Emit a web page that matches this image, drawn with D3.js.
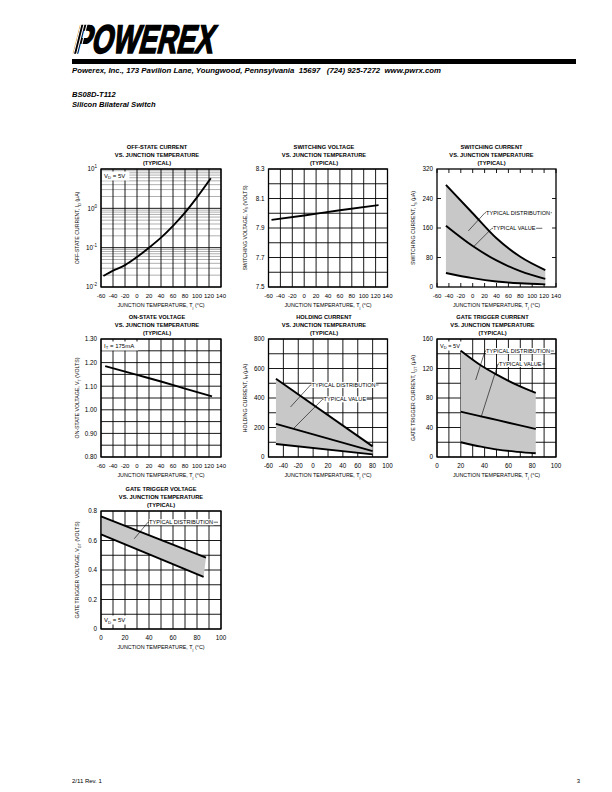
<!DOCTYPE html>
<html><head><meta charset="utf-8">
<script src="https://cdn.jsdelivr.net/npm/d3@7"></script>
<style>body{margin:0;background:#fff} svg{display:block} text{font-family:"Liberation Sans",Arial,Helvetica,sans-serif}</style>
</head><body>
<svg id="c" width="612" height="792"></svg>
<script>
// ---------- data ----------
const offT = [-56, -40, -20, 0, 20, 40, 60, 80, 100, 123];
const offI = [0.019, 0.026, 0.036, 0.058, 0.10, 0.18, 0.36, 0.78, 1.9, 5.8];

const swvT = [-55, 0, 60, 125];
const swvV = [7.955, 7.985, 8.02, 8.055];

const swcT = [-45, 0, 40, 80, 122];
const swcUpper = [277, 200, 132, 82, 46];
const swcTypical = [166, 111, 72, 43, 22];
const swcLower = [38, 24, 15, 10, 7];

const onT = [-53, 0, 40, 80, 125];
const onV = [1.185, 1.148, 1.12, 1.09, 1.057];

const holdT = [-50, 80];
const holdUpper = [531, 72];
const holdTypical = [224, 40];
const holdLower = [88, 18];

const gtcT = [20, 37, 51, 68, 83];
const gtcUpper = [144, 124, 111, 97, 87];
const gtcTypical = [61.5, 55, 50, 43.5, 38];
const gtcLower = [20, 14, 10, 7, 5];

const gtvUpperT = [0, 87.5];
const gtvUpper = [0.764, 0.484];
const gtvLowerT = [0, 85.5];
const gtvLower = [0.642, 0.354];

// ---------- tick labels ----------
const tempTicksA = [-60, -40, -20, 0, 20, 40, 60, 80, 100, 120, 140];
const tempTicksB = [-60, -40, -20, 0, 20, 40, 60, 80, 100];
const tempTicksC = [0, 20, 40, 60, 80, 100];
const offYExp = [-2, -1, 0, 1];
const swvYTicks = [7.5, 7.7, 7.9, 8.1, 8.3];
const swcYTicks = [0, 80, 160, 240, 320];
const onYTicks = [0.80, 0.90, 1.00, 1.10, 1.20, 1.30];
const holdYTicks = [0, 200, 400, 600, 800];
const gtcYTicks = [0, 40, 80, 120, 160];
const gtvYTicks = [0, 0.2, 0.4, 0.6, 0.8];

const svg = d3.select('#c');
const FS = 6.3;

function rich(sel, parts, fs) {
  let shift = 0;
  parts.forEach(p => {
    const t = sel.append('tspan').text(p.t);
    let target = 0, size = fs;
    if (p.sub) { target = fs * 0.3; size = fs * 0.72; }
    if (p.sup) { target = -fs * 0.45; size = fs * 0.72; }
    if (target !== shift) { t.attr('dy', target - shift); shift = target; }
    t.attr('font-size', size);
  });
}

const xTitle = [{t: 'JUNCTION TEMPERATURE, T'}, {t: 'j', sub: true}, {t: ' (°C)'}];

function chart(o) {
  const g = svg.append('g');
  const x = d3.scaleLinear().domain(o.xd).range([o.l, o.l + o.w]);
  const y = (o.log ? d3.scaleLog() : d3.scaleLinear()).domain(o.yd).range([o.t + o.h, o.t]);
  const X0 = o.l, X1 = o.l + o.w, Y0 = o.t + o.h, Y1 = o.t;
  const hline = (vals, stroke, sw) => g.append('g').selectAll('line').data(vals).join('line')
    .attr('x1', X0).attr('x2', X1).attr('y1', d => y(d)).attr('y2', d => y(d))
    .attr('stroke', stroke).attr('stroke-width', sw);
  const vline = (vals, stroke, sw) => g.append('g').selectAll('line').data(vals).join('line')
    .attr('y1', Y0).attr('y2', Y1).attr('x1', d => x(d)).attr('x2', d => x(d))
    .attr('stroke', stroke).attr('stroke-width', sw);
  if (o.minorY) hline(o.minorY, '#8c8c8c', 0.7);
  if (o.gridY) hline(o.gridY, '#000', 0.9);
  if (o.gridX) vline(o.gridX, '#000', 0.9);
  if (o.innerTicks) {
    const tk = g.append('g').attr('stroke', '#000').attr('stroke-width', 0.9);
    o.innerTicks.x.forEach(v => {
      tk.append('line').attr('x1', x(v)).attr('x2', x(v)).attr('y1', Y1).attr('y2', Y1 + 4);
      tk.append('line').attr('x1', x(v)).attr('x2', x(v)).attr('y1', Y0).attr('y2', Y0 - 4);
    });
    o.innerTicks.y.forEach(v => {
      tk.append('line').attr('y1', y(v)).attr('y2', y(v)).attr('x1', X0).attr('x2', X0 + 4);
      tk.append('line').attr('y1', y(v)).attr('y2', y(v)).attr('x1', X1).attr('x2', X1 - 4);
    });
  }
  const box = b => {
    const bg = g.append('g');
    const r = bg.append('rect').attr('fill', '#fff');
    const t = bg.append('text').attr('font-size', b.fs || 6).attr('x', X0 + 3)
      .attr('y', b.bottom ? Y0 - 7 : Y1 + 8.5);
    rich(t, b.parts, b.fs || 6);
    const w = t.node().getComputedTextLength();
    r.attr('x', X0 + 1).attr('width', w + 6).attr('y', b.bottom ? Y0 - 13.5 : Y1 + 2.5).attr('height', 9);
  };
  if (o.box && o.boxBefore) box(o.box);
  const line = d3.line().x(d => x(d[0])).y(d => y(d[1])).curve(d3.curveMonotoneX);
  if (o.band) {
    const up = o.band.t1.map((t, i) => [t, o.band.up[i]]);
    const lo = o.band.t2.map((t, i) => [t, o.band.lo[i]]).reverse();
    const p = line(up) + 'L' + line(lo).slice(1) + 'Z';
    g.append('path').attr('d', p).attr('fill', '#c8c8c8').attr('stroke', 'none');
  }
  g.append('rect').attr('x', X0).attr('y', Y1).attr('width', o.w).attr('height', o.h)
    .attr('fill', 'none').attr('stroke', '#000').attr('stroke-width', 1.3);
  o.curves.forEach(c => {
    g.append('path').attr('d', line(c.t.map((t, i) => [t, c.v[i]])))
      .attr('fill', 'none').attr('stroke', '#000').attr('stroke-width', 1.9);
  });
  g.append('g').selectAll('text').data(o.xt).join('text')
    .attr('x', d => x(d)).attr('y', Y0 + 11.3).attr('text-anchor', 'middle')
    .attr('font-size', o.xfs || FS).text(d => d);
  if (o.log) {
    o.yt.forEach(e => {
      const t = g.append('text').attr('x', X0 - 4).attr('y', y(Math.pow(10, e)) + 2.3)
        .attr('text-anchor', 'end').attr('font-size', FS);
      rich(t, [{t: '10'}, {t: String(e), sup: true}], FS);
    });
  } else {
    g.append('g').selectAll('text').data(o.yt).join('text')
      .attr('x', X0 - 4).attr('y', d => y(d) + 2.3).attr('text-anchor', 'end')
      .attr('font-size', FS).text(d => o.yfmt(d));
  }
  const cx = (X0 + X1) / 2 + (o.tdx || 0);
  o.title.forEach((s, i) => {
    g.append('text').attr('x', cx).attr('y', Y1 - 22 + i * 8 + 2).attr('text-anchor', 'middle')
      .attr('font-size', 5.7).attr('font-weight', 'bold').text(s);
  });
  const xt = g.append('text').attr('x', (X0 + X1) / 2).attr('y', Y0 + 20).attr('text-anchor', 'middle').attr('font-size', 5.4);
  rich(xt, xTitle, 5.4);
  const yt = g.append('text').attr('transform', `translate(${X0 - 22},${(Y0 + Y1) / 2}) rotate(-90)`)
    .attr('text-anchor', 'middle').attr('font-size', 5.2);
  rich(yt, o.ytitle, 5.2);
  (o.ann || []).forEach(a => {
    const ag = g.append('g');
    const px = x(a.tx), py = y(a.ty);
    ag.append('line').attr('x1', x(a.lx)).attr('y1', y(a.ly)).attr('x2', px - 1).attr('y2', py)
      .attr('stroke', '#000').attr('stroke-width', 0.6);
    ag.append('line').attr('x1', px - 1).attr('y1', py).attr('x2', x(a.ex)).attr('y2', py)
      .attr('stroke', '#000').attr('stroke-width', 0.6);
    const r = ag.append('rect').attr('fill', '#fff');
    const t = ag.append('text').attr('x', px).attr('y', py + 2).attr('font-size', 5.6).text(a.text);
    const w = t.node().getComputedTextLength();
    r.attr('x', px).attr('y', py - 3).attr('width', w + 0.5).attr('height', 6);
  });
  if (o.box && !o.boxBefore) box(o.box);
  return g;
}

// ---------- header ----------
const logo = svg.append('g').attr('transform', 'translate(72,53) skewX(-14)');
logo.append('text').attr('x', 0).attr('y', 0).attr('font-size', 40).attr('font-weight', 'bold')
  .attr('stroke', '#000').attr('stroke-width', 1.6).attr('stroke-linejoin', 'miter')
  .attr('textLength', 140).attr('lengthAdjust', 'spacingAndGlyphs').text('POWEREX');
[1.8, 4.8, 7.8].forEach(v => logo.append('line').attr('x1', v).attr('x2', v).attr('y1', -30).attr('y2', 2)
  .attr('stroke', '#fff').attr('stroke-width', 1.1));
svg.append('rect').attr('x', 72).attr('y', 59).attr('width', 504).attr('height', 5).attr('fill', '#000');
svg.append('text').attr('x', 72).attr('y', 72.5).attr('font-size', 7.2).attr('font-weight', 'bold')
  .attr('font-style', 'italic').attr('textLength', 369).attr('lengthAdjust', 'spacingAndGlyphs')
  .attr('xml:space', 'preserve')
  .text('Powerex, Inc., 173 Pavilion Lane, Youngwood, Pennsylvania  15697   (724) 925-7272  www.pwrx.com');
svg.append('text').attr('x', 72).attr('y', 96.5).attr('font-size', 7.6).attr('font-weight', 'bold')
  .attr('font-style', 'italic').text('BS08D-T112');
svg.append('text').attr('x', 72).attr('y', 106.5).attr('font-size', 7.6).attr('font-weight', 'bold')
  .attr('font-style', 'italic').text('Silicon Bilateral Switch');
svg.append('text').attr('x', 72).attr('y', 783).attr('font-size', 6).text('2/11 Rev. 1');
svg.append('text').attr('x', 580).attr('y', 783).attr('font-size', 6).attr('text-anchor', 'end').text('3');

// ---------- charts ----------
const minorLog = [];
[0.01, 0.1, 1].forEach(m => { for (let k = 2; k <= 9; k++) minorLog.push(m * k); });
const range = (a, b, s) => d3.range(a, b + s / 2, s);
const fmt1 = d => d.toFixed(1), fmt2 = d => d.toFixed(2), fmt0 = d => String(d);
const T = ['VS. JUNCTION TEMPERATURE', '(TYPICAL)'];

chart({l: 101, t: 169, w: 120, h: 118, xd: [-60, 140], yd: [0.01, 10], log: true,
  minorY: minorLog, gridY: [0.01, 0.1, 1, 10], gridX: tempTicksA, xt: tempTicksA, yt: offYExp, xfs: 6,
  title: ['OFF-STATE CURRENT', ...T], tdx: -4,
  ytitle: [{t: 'OFF-STATE CURRENT, I'}, {t: 'D', sub: true}, {t: ' (μA)'}],
  curves: [{t: offT, v: offI}],
  box: {parts: [{t: 'V'}, {t: 'D', sub: true}, {t: ' = 5V'}]}});

chart({l: 268.5, t: 169, w: 119, h: 118, xd: [-60, 140], yd: [7.5, 8.3],
  gridY: range(7.5, 8.3, 0.1), gridX: tempTicksA, xt: tempTicksA, yt: swvYTicks, yfmt: fmt1, xfs: 6,
  title: ['SWITCHING VOLTAGE', ...T], tdx: -4,
  ytitle: [{t: 'SWITCHING VOLTAGE, V'}, {t: 'S', sub: true}, {t: ' (VOLTS)'}],
  curves: [{t: swvT, v: swvV}]});

chart({l: 437, t: 169, w: 119, h: 118, xd: [-60, 140], yd: [0, 320],
  innerTicks: {x: tempTicksA, y: [80, 160, 240]}, xt: tempTicksA, yt: swcYTicks, yfmt: fmt0, xfs: 6,
  title: ['SWITCHING CURRENT', ...T], tdx: -5,
  ytitle: [{t: 'SWITCHING CURRENT, I'}, {t: 'S', sub: true}, {t: ' (μA)'}],
  band: {t1: swcT, up: swcUpper, t2: swcT, lo: swcLower},
  curves: [{t: swcT, v: swcUpper}, {t: swcT, v: swcTypical}, {t: swcT, v: swcLower}],
  ann: [{text: 'TYPICAL DISTRIBUTION', tx: 22.4, ty: 201.5, lx: -7.4, ly: 152, ex: 133},
        {text: 'TYPICAL VALUE', tx: 34.1, ty: 159.2, lx: 1.0, ly: 108.5, ex: 117}]});

chart({l: 101, t: 339, w: 120, h: 118, xd: [-60, 140], yd: [0.8, 1.3],
  gridY: range(0.8, 1.3, 0.05), gridX: tempTicksA, xt: tempTicksA, yt: onYTicks, yfmt: fmt2, xfs: 6,
  title: ['ON-STATE VOLTAGE', ...T], tdx: -4,
  ytitle: [{t: 'ON-STATE VOLTAGE, V'}, {t: 'T', sub: true}, {t: ' (VOLTS)'}],
  curves: [{t: onT, v: onV}],
  box: {parts: [{t: 'I'}, {t: 'T', sub: true}, {t: ' = 175mA'}]}});

chart({l: 268.5, t: 339, w: 119, h: 118, xd: [-60, 100], yd: [0, 800],
  gridY: range(0, 800, 100), gridX: tempTicksB, xt: tempTicksB, yt: holdYTicks, yfmt: fmt0,
  title: ['HOLDING CURRENT', ...T], tdx: -4,
  ytitle: [{t: 'HOLDING CURRENT, I'}, {t: 'H', sub: true}, {t: ' (μA)'}],
  band: {t1: holdT, up: holdUpper, t2: holdT, lo: holdLower},
  curves: [{t: holdT, v: holdUpper}, {t: holdT, v: holdTypical}, {t: holdT, v: holdLower}],
  ann: [{text: 'TYPICAL DISTRIBUTION', tx: -2.2, ty: 488, lx: -30.4, ly: 339, ex: 88},
        {text: 'TYPICAL VALUE', tx: 14, ty: 391, lx: -26, ly: 195, ex: 79.8}]});

chart({l: 437, t: 339, w: 119, h: 118, xd: [0, 100], yd: [0, 160],
  gridY: range(0, 160, 20), gridX: range(0, 100, 10), xt: tempTicksC, yt: gtcYTicks, yfmt: fmt0,
  title: ['GATE TRIGGER CURRENT', ...T], tdx: -4,
  ytitle: [{t: 'GATE TRIGGER CURRENT, I'}, {t: 'GT', sub: true}, {t: ' (μA)'}],
  band: {t1: gtcT, up: gtcUpper, t2: gtcT, lo: gtcLower},
  curves: [{t: gtcT, v: gtcUpper}, {t: gtcT, v: gtcTypical}, {t: gtcT, v: gtcLower}],
  boxBefore: true, box: {fs: 5.6, parts: [{t: 'V'}, {t: 'D', sub: true}, {t: ' = 5V'}]},
  ann: [{text: 'TYPICAL DISTRIBUTION', tx: 41.2, ty: 143.7, lx: 32.5, ly: 104.4, ex: 98.3},
        {text: 'TYPICAL VALUE', tx: 52.1, ty: 126.1, lx: 37.0, ly: 53.8, ex: 90.8}]});

chart({l: 101, t: 511, w: 120, h: 118, xd: [0, 100], yd: [0, 0.8],
  gridY: range(0, 0.8, 0.1), gridX: range(0, 100, 10), xt: tempTicksC, yt: gtvYTicks,
  yfmt: d => d === 0 ? '0' : d.toFixed(1),
  title: ['GATE TRIGGER VOLTAGE', ...T], tdx: 0,
  ytitle: [{t: 'GATE TRIGGER VOLTAGE, V'}, {t: 'GT', sub: true}, {t: ' (VOLTS)'}],
  band: {t1: gtvUpperT, up: gtvUpper, t2: gtvLowerT, lo: gtvLower},
  curves: [{t: gtvUpperT, v: gtvUpper}, {t: gtvLowerT, v: gtvLower}],
  box: {bottom: true, parts: [{t: 'V'}, {t: 'D', sub: true}, {t: ' = 5V'}]},
  ann: [{text: 'TYPICAL DISTRIBUTION', tx: 40, ty: 0.724, lx: 27.75, ly: 0.612, ex: 97.5}]});
</script>
</body></html>
